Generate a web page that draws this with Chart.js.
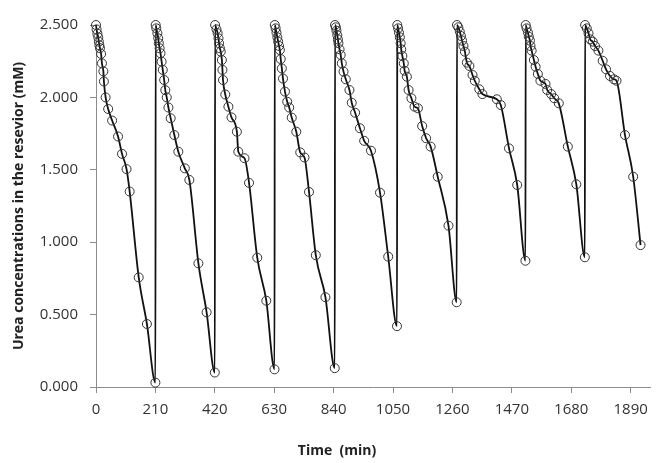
<!DOCTYPE html>
<html>
<head>
<meta charset="utf-8">
<script src="https://cdn.jsdelivr.net/npm/chart.js@4.4.0/dist/chart.umd.min.js"></script>
<style>
  html, body { margin: 0; padding: 0; background: #fff; }
  #wrap { width: 656px; height: 463px; }
</style>
</head>
<body>
<div id="wrap"><canvas id="ureaChart" width="656" height="463"></canvas></div>
<script>
// time (min) and urea (mM), one row per reservoir refill
const timeMin = [
    0, 2, 5, 8, 10, 12, 14, 18, 21, 26, 28, 34, 43, 57, 78, 92, 108, 119, 151, 180, 210,
    211, 213, 217, 220, 222, 225, 228, 232, 236, 241, 245, 250, 256, 264, 277, 291, 314, 330, 362, 391, 420,
    421, 426, 430, 433, 435, 438, 441, 445, 447, 449, 457, 468, 479, 498, 503, 525, 541, 570, 602, 631,
    632, 635, 638, 641, 644, 647, 650, 653, 657, 661, 668, 676, 683, 692, 708, 722, 737, 753, 777, 811, 844,
    845, 848, 850, 853, 855, 857, 861, 865, 869, 875, 883, 896, 904, 916, 933, 948, 972, 1004, 1033, 1064,
    1065, 1068, 1071, 1074, 1077, 1079, 1083, 1088, 1091, 1099, 1105, 1115, 1126, 1138, 1153, 1167, 1183, 1208, 1246, 1275,
    1276, 1281, 1286, 1290, 1294, 1299, 1304, 1311, 1320, 1331, 1339, 1355, 1366, 1417, 1431, 1460, 1489, 1518,
    1519, 1522, 1527, 1530, 1534, 1536, 1540, 1548, 1554, 1562, 1571, 1589, 1595, 1609, 1620, 1636, 1668, 1698, 1728,
    1729, 1735, 1741, 1747, 1756, 1764, 1776, 1791, 1803, 1817, 1831, 1840, 1870, 1899, 1925
];
const ureaMM = [
    2.50, 2.47, 2.44, 2.415, 2.385, 2.36, 2.34, 2.30, 2.235, 2.18, 2.11, 2.00, 1.92, 1.84, 1.73, 1.61, 1.505, 1.35, 0.757, 0.435, 0.03,
    2.50, 2.477, 2.443, 2.408, 2.374, 2.339, 2.305, 2.247, 2.19, 2.12, 2.05, 2.00, 1.93, 1.856, 1.74, 1.625, 1.51, 1.43, 0.854, 0.516, 0.10,
    2.50, 2.47, 2.443, 2.408, 2.374, 2.339, 2.316, 2.258, 2.19, 2.12, 2.02, 1.936, 1.862, 1.763, 1.625, 1.58, 1.41, 0.893, 0.596, 0.122,
    2.50, 2.477, 2.447, 2.415, 2.385, 2.355, 2.327, 2.265, 2.20, 2.13, 2.04, 1.97, 1.93, 1.86, 1.763, 1.62, 1.585, 1.347, 0.91, 0.62, 0.13,
    2.50, 2.484, 2.461, 2.43, 2.401, 2.374, 2.332, 2.293, 2.235, 2.178, 2.125, 2.051, 1.963, 1.894, 1.787, 1.70, 1.632, 1.342, 0.90, 0.42,
    2.50, 2.477, 2.447, 2.415, 2.374, 2.332, 2.286, 2.235, 2.184, 2.143, 2.051, 1.994, 1.936, 1.925, 1.802, 1.718, 1.66, 1.452, 1.114, 0.585,
    2.50, 2.484, 2.454, 2.424, 2.392, 2.355, 2.316, 2.24, 2.217, 2.155, 2.115, 2.056, 2.023, 1.987, 1.947, 1.648, 1.395, 0.872,
    2.50, 2.477, 2.447, 2.419, 2.392, 2.355, 2.323, 2.258, 2.212, 2.162, 2.115, 2.093, 2.051, 2.023, 1.994, 1.959, 1.66, 1.40, 0.896,
    2.50, 2.477, 2.443, 2.401, 2.385, 2.355, 2.323, 2.253, 2.194, 2.148, 2.125, 2.115, 1.74, 1.452, 0.98
];
const xTickValues = [0, 210, 420, 630, 840, 1050, 1260, 1470, 1680, 1890];
const yTickValues = [0, 0.5, 1, 1.5, 2, 2.5];

const points = timeMin.map(function (t, i) {
    return { x: t, y: ureaMM[i] };
});

const axisGrey = '#8c8c8c';
const labelFont = { family: 'Open Sans', size: 15 };
const titleFont = { family: 'Open Sans', size: 14, weight: 'bold' };

// x title sits left of the plot centre in the original, so draw it by hand
const xTitlePlugin = {
    id: 'xTitle',
    afterDraw: function (chart) {
        const ctx = chart.ctx;
        ctx.save();
        ctx.font = 'bold 14px "Open Sans"';
        ctx.fillStyle = '#222';
        ctx.textAlign = 'center';
        ctx.textBaseline = 'middle';
        ctx.fillText('Time  (min)', 337, 451);
        ctx.restore();
    }
};

new Chart(document.getElementById('ureaChart'), {
    type: 'line',
    data: {
        datasets: [{
            data: points,
            borderColor: '#111',
            borderWidth: 1.8,
            cubicInterpolationMode: 'monotone',
            pointRadius: 4.5,
            pointBorderColor: '#333',
            pointBorderWidth: 1,
            pointBackgroundColor: 'rgba(0,0,0,0)',
            clip: false
        }]
    },
    plugins: [xTitlePlugin],
    options: {
        responsive: false,
        animation: false,
        layout: { padding: { top: 25, right: 2, left: 0, bottom: 0 } },
        plugins: {
            legend: { display: false },
            tooltip: { enabled: false }
        },
        scales: {
            x: {
                type: 'linear',
                min: 0,
                max: 1960,
                afterBuildTicks: function (scale) {
                    scale.ticks = xTickValues.map(function (v) { return { value: v }; });
                },
                afterFit: function (scale) { scale.height = 76; },
                grid: { drawOnChartArea: false, drawTicks: true, tickLength: 6, color: axisGrey },
                border: { color: axisGrey, width: 1 },
                ticks: {
                    color: '#333',
                    font: labelFont,
                    padding: 8,
                    maxRotation: 0,
                    callback: function (v) { return String(v); }
                }
            },
            y: {
                min: 0,
                max: 2.5,
                afterBuildTicks: function (scale) {
                    scale.ticks = yTickValues.map(function (v) { return { value: v }; });
                },
                afterFit: function (scale) { scale.width = 96; },
                grid: { drawOnChartArea: false, drawTicks: true, tickLength: 6, color: axisGrey },
                border: { color: axisGrey, width: 1 },
                ticks: {
                    color: '#333',
                    font: labelFont,
                    padding: 12,
                    callback: function (v) { return Number(v).toFixed(3); }
                },
                title: {
                    display: true,
                    text: 'Urea concentrations in the resevior (mM)',
                    color: '#222',
                    font: titleFont,
                    padding: { top: 11, bottom: 0 }
                }
            }
        }
    }
});
</script>
</body>
</html>
